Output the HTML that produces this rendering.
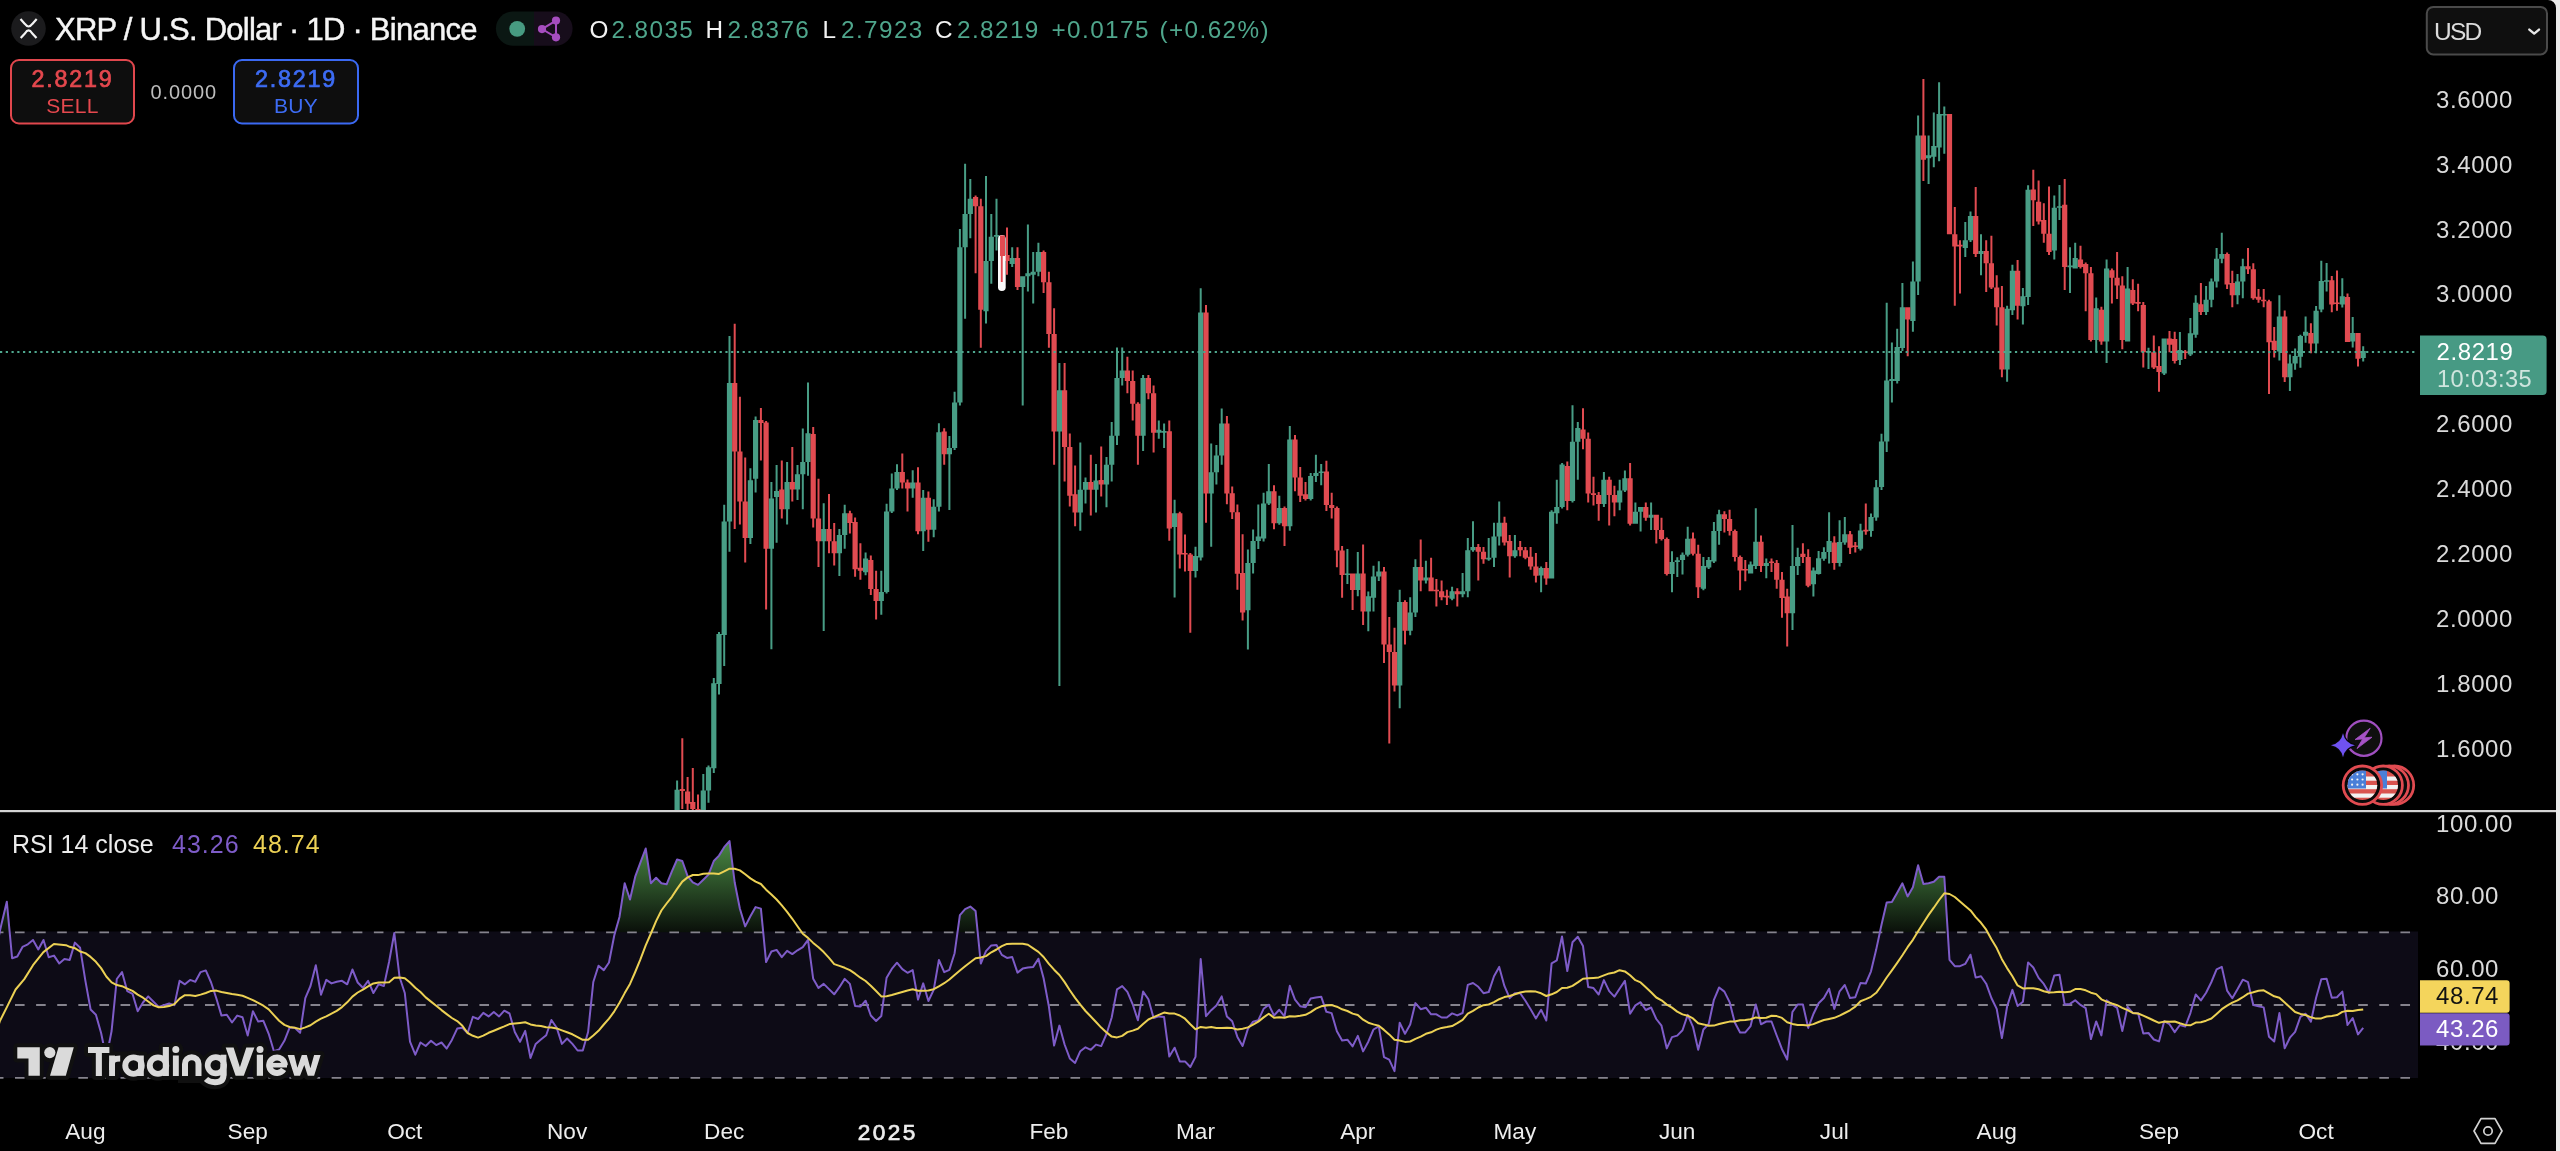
<!DOCTYPE html>
<html><head><meta charset="utf-8"><title>XRP / U.S. Dollar</title>
<style>
html,body{margin:0;padding:0;background:#000;width:2560px;height:1151px;overflow:hidden;}
svg{display:block;will-change:transform;}
text{font-family:"Liberation Sans",sans-serif;}
</style></head>
<body>
<svg width="2560" height="1151" viewBox="0 0 2560 1151">
<defs>
<linearGradient id="obg" gradientUnits="userSpaceOnUse" x1="0" y1="840" x2="0" y2="932">
<stop offset="0" stop-color="#4a8a44"/><stop offset="1" stop-color="#0a100a"/>
</linearGradient>
<clipPath id="pricepane"><rect x="0" y="0" width="2418" height="810"/></clipPath>
<clipPath id="rsipane"><rect x="0" y="812" width="2418" height="290"/></clipPath>
<clipPath id="flagclip1"><circle cx="2362.4" cy="785.2" r="14.8"/></clipPath>
<clipPath id="flagclip2"><circle cx="2383.2" cy="785.2" r="14.8"/></clipPath>
</defs>
<rect x="0" y="0" width="2560" height="1151" fill="#000"/>

<!-- ===== price pane ===== -->
<g clip-path="url(#pricepane)">
<path fill="#489d85" d="M676.1 780.4h2v30.6h-2zM674.5 789.7h5.2v21.3h-5.2zM702.3 774h2v37h-2zM700.7 790.6h5.2v20.4h-5.2zM707.5 765.4h2v37.4h-2zM705.9 767.3h5.2v23.3h-5.2zM712.8 678h2v94.9h-2zM711.2 683.2h5.2v85h-5.2zM718 632h2v62.4h-2zM716.4 634h5.2v50h-5.2zM723.2 504.7h2v161.3h-2zM721.6 521.4h5.2v113.5h-5.2zM728.5 335.9h2v215.9h-2zM726.9 383h5.2v138.4h-5.2zM749.4 468.2h2v75.8h-2zM747.8 480.3h5.2v57.7h-5.2zM754.6 416.5h2v76h-2zM753 420h5.2v58.8h-5.2zM770.4 481.9h2v167.3h-2zM768.8 498.6h5.2v50.2h-5.2zM775.6 465h2v77.7h-2zM774 491h5.2v6h-5.2zM786.1 462h2v62.5h-2zM784.5 481.9h5.2v27.3h-5.2zM796.5 465h2v35h-2zM794.9 474.3h5.2v15.2h-5.2zM801.8 428.6h2v80.6h-2zM800.2 462h5.2v12.3h-5.2zM807 382.4h2v93.4h-2zM805.4 433.2h5.2v28.8h-5.2zM822.7 503.2h2v127.8h-2zM821.1 529h5.2v12.2h-5.2zM838.4 529h2v47h-2zM836.8 535h5.2v18.3h-5.2zM843.7 504.7h2v44.1h-2zM842.1 513.2h5.2v21.8h-5.2zM864.6 552.5h2v22.8h-2zM863 558.6h5.2v13.6h-5.2zM880.3 570.7h2v44.1h-2zM878.7 592h5.2v9h-5.2zM885.6 503.8h2v89.7h-2zM884 511.4h5.2v80.6h-5.2zM890.8 473.4h2v39.6h-2zM889.2 488.6h5.2v22.8h-5.2zM896 464.3h2v25.7h-2zM894.4 471.9h5.2v16.7h-5.2zM911.7 470.3h2v27.4h-2zM910.1 482.5h5.2v6.1h-5.2zM922.2 490h2v61h-2zM920.6 497.7h5.2v33.5h-5.2zM932.7 499.2h2v38.1h-2zM931.1 506.8h5.2v22.9h-5.2zM937.9 423.2h2v88.2h-2zM936.3 432.3h5.2v74.5h-5.2zM948.4 436h2v73.9h-2zM946.8 448.1h5.2v6.1h-5.2zM953.6 391.8h2v58.2h-2zM952 402.5h5.2v45.6h-5.2zM958.9 229.1h2v176.4h-2zM957.3 247.3h5.2v155.2h-5.2zM964.1 163.7h2v155.1h-2zM962.5 213.9h5.2v33.4h-5.2zM969.3 178.9h2v59.3h-2zM967.7 198.7h5.2v15.2h-5.2zM985 175.9h2v147.5h-2zM983.4 261h5.2v50.2h-5.2zM990.3 213.9h2v69.9h-2zM988.7 236.7h5.2v24.3h-5.2zM995.5 198.7h2v51.7h-2zM993.9 235.1h5.2v1.6h-5.2zM1011.2 247.3h2v19.8h-2zM1009.6 258h5.2v6h-5.2zM1021.7 276.2h2v129.3h-2zM1020.1 276.2h5.2v10.7h-5.2zM1026.9 224.5h2v66.9h-2zM1025.3 273.2h5.2v3h-5.2zM1032.2 251.9h2v51.7h-2zM1030.6 271.7h5.2v3h-5.2zM1037.4 242.8h2v33.4h-2zM1035.8 251.9h5.2v19.8h-5.2zM1058.4 362.9h2v323.1h-2zM1056.8 390.3h5.2v41.1h-5.2zM1079.3 442.6h2v88.2h-2zM1077.7 489.7h5.2v22.8h-5.2zM1084.5 477.6h2v25.8h-2zM1082.9 482.1h5.2v7.6h-5.2zM1095 463.9h2v48.6h-2zM1093.4 480.6h5.2v9.1h-5.2zM1105.5 457h2v50.3h-2zM1103.9 464.7h5.2v19.7h-5.2zM1110.7 422h2v59.4h-2zM1109.1 435.8h5.2v28.9h-5.2zM1116 347.6h2v97.3h-2zM1114.4 378h5.2v57.8h-5.2zM1121.2 347.6h2v38h-2zM1119.6 370.4h5.2v7.6h-5.2zM1142.1 375h2v76h-2zM1140.5 378h5.2v57.8h-5.2zM1157.8 420.6h2v18.2h-2zM1156.2 429.7h5.2v3h-5.2zM1163.1 423.6h2v24.4h-2zM1161.5 431.1h5.2v1.6h-5.2zM1173.6 499.7h2v97.8h-2zM1172 513.3h5.2v13.7h-5.2zM1194.5 546.8h2v30.7h-2zM1192.9 556h5.2v15.1h-5.2zM1199.7 288.3h2v272.2h-2zM1198.1 312.6h5.2v244.9h-5.2zM1210.2 443.4h2v103.4h-2zM1208.6 472.3h5.2v21.3h-5.2zM1215.4 444.9h2v39.5h-2zM1213.8 455.6h5.2v16.7h-5.2zM1220.7 408.4h2v56.3h-2zM1219.1 423.6h5.2v32h-5.2zM1246.9 549.4h2v100h-2zM1245.3 563.1h5.2v47.2h-5.2zM1252.1 529.6h2v43.8h-2zM1250.5 541h5.2v22.1h-5.2zM1257.3 504.6h2v44.4h-2zM1255.7 536.6h5.2v4.4h-5.2zM1262.6 492.8h2v48.6h-2zM1261 503.4h5.2v35h-5.2zM1267.8 463.9h2v41.1h-2zM1266.2 491.3h5.2v12.1h-5.2zM1278.3 495.8h2v28.9h-2zM1276.7 508h5.2v15.2h-5.2zM1288.8 425.9h2v104.9h-2zM1287.2 439.5h5.2v86.7h-5.2zM1309.7 473h2v27.4h-2zM1308.1 476h5.2v22.9h-5.2zM1314.9 454.8h2v27.3h-2zM1313.3 473h5.2v3h-5.2zM1320.2 463.9h2v21.3h-2zM1318.6 471.4h5.2v1.6h-5.2zM1346.4 549h2v35h-2zM1344.8 573.4h5.2v1.6h-5.2zM1356.8 552.1h2v44.1h-2zM1355.2 573.4h5.2v16.7h-5.2zM1367.3 591.6h2v39.6h-2zM1365.7 596.2h5.2v15.2h-5.2zM1372.5 565.8h2v45.6h-2zM1370.9 576.4h5.2v21.3h-5.2zM1377.8 561.2h2v19.8h-2zM1376.2 571.4h5.2v5h-5.2zM1398.7 589.7h2v118.6h-2zM1397.1 601.9h5.2v83.6h-5.2zM1409.2 597.3h2v38h-2zM1407.6 612.5h5.2v18.3h-5.2zM1414.4 559.3h2v57.7h-2zM1412.8 566.9h5.2v45.6h-5.2zM1424.9 560.8h2v22.8h-2zM1423.3 577.5h5.2v3.1h-5.2zM1451.1 586.7h2v13.6h-2zM1449.5 591.2h5.2v7.6h-5.2zM1461.6 573h2v24.3h-2zM1460 591.2h5.2v3.1h-5.2zM1466.8 538h2v59.3h-2zM1465.2 550.2h5.2v41h-5.2zM1472 521.3h2v30.4h-2zM1470.4 547.1h5.2v3.1h-5.2zM1487.7 538h2v22.8h-2zM1486.1 557.8h5.2v1.6h-5.2zM1493 522.8h2v44.1h-2zM1491.4 536.5h5.2v21.3h-5.2zM1498.2 501.5h2v44.1h-2zM1496.6 522.8h5.2v13.7h-5.2zM1513.9 534.9h2v22.9h-2zM1512.3 550.2h5.2v6h-5.2zM1540.1 566.4h2v25.9h-2zM1538.5 568h5.2v7.6h-5.2zM1550.6 510.2h2v68.4h-2zM1549 511.7h5.2v66.9h-5.2zM1555.8 479.7h2v44.1h-2zM1554.2 507.1h5.2v6.1h-5.2zM1561.1 463h2v45.6h-2zM1559.5 464.5h5.2v42.6h-5.2zM1571.5 405.2h2v97.3h-2zM1569.9 441.7h5.2v59.3h-5.2zM1576.8 421.9h2v57.8h-2zM1575.2 428h5.2v13.7h-5.2zM1602.9 472.1h2v35h-2zM1601.3 479.7h5.2v24.4h-5.2zM1618.7 479.7h2v30.5h-2zM1617.1 490.4h5.2v12.1h-5.2zM1623.9 470.6h2v21.3h-2zM1622.3 478.2h5.2v12.2h-5.2zM1634.4 502.5h2v21.3h-2zM1632.8 511.7h5.2v12.1h-5.2zM1639.6 507.1h2v24.3h-2zM1638 507.1h5.2v4.6h-5.2zM1650.1 502.5h2v27.4h-2zM1648.5 514.7h5.2v3.1h-5.2zM1671 551.2h2v41.1h-2zM1669.4 561.9h5.2v12.1h-5.2zM1676.3 557.3h2v19.8h-2zM1674.7 560.3h5.2v1.6h-5.2zM1681.5 552.5h2v22h-2zM1679.9 554.8h5.2v5.3h-5.2zM1686.7 526.7h2v29.7h-2zM1685.1 538.8h5.2v16h-5.2zM1702.4 556.9h2v33.4h-2zM1700.8 566h5.2v22.8h-5.2zM1707.7 556.9h2v12.1h-2zM1706.1 559.9h5.2v7.6h-5.2zM1712.9 521.9h2v41.1h-2zM1711.3 531h5.2v30.4h-5.2zM1718.1 509.7h2v35h-2zM1716.5 514.3h5.2v16.7h-5.2zM1749.6 561.4h2v12.2h-2zM1748 564.5h5.2v9.1h-5.2zM1754.8 508.2h2v60.8h-2zM1753.2 541.7h5.2v24.3h-5.2zM1765.3 558.4h2v19.8h-2zM1763.7 563h5.2v3h-5.2zM1791.5 524.9h2v105h-2zM1789.9 566h5.2v47.2h-5.2zM1796.7 547.8h2v27.3h-2zM1795.1 556.9h5.2v9.1h-5.2zM1812.4 567.5h2v28.9h-2zM1810.8 570.6h5.2v13.7h-5.2zM1817.6 550.9h2v23.5h-2zM1816 558.2h5.2v15.7h-5.2zM1822.9 547.3h2v13.5h-2zM1821.3 552h5.2v6.7h-5.2zM1828.1 512.3h2v51.1h-2zM1826.5 541h5.2v11h-5.2zM1838.6 520.2h2v46.4h-2zM1837 542.1h5.2v20.8h-5.2zM1843.8 517h2v27.7h-2zM1842.2 534.2h5.2v8.4h-5.2zM1859.5 523.8h2v26.6h-2zM1857.9 530.6h5.2v18.2h-5.2zM1870 513.4h2v23.4h-2zM1868.4 517h5.2v14.1h-5.2zM1875.2 480h2v40.7h-2zM1873.6 487.3h5.2v30.2h-5.2zM1880.5 433.8h2v56.3h-2zM1878.9 441.4h5.2v45.7h-5.2zM1885.7 302.7h2v149.4h-2zM1884.1 380.5h5.2v60.9h-5.2zM1890.9 342.6h2v59.9h-2zM1889.3 378.9h5.2v2.1h-5.2zM1896.2 328.7h2v54.8h-2zM1894.6 346.9h5.2v34.1h-5.2zM1901.4 282.9h2v68.1h-2zM1899.8 307.3h5.2v40.7h-5.2zM1911.9 261.6h2v70.2h-2zM1910.3 281.4h5.2v39.6h-5.2zM1917.1 115.6h2v179.5h-2zM1915.5 135.4h5.2v146h-5.2zM1927.6 135.4h2v48.7h-2zM1926 155.2h5.2v3h-5.2zM1932.8 112.6h2v54.7h-2zM1931.2 146h5.2v10.7h-5.2zM1938.1 82.2h2v79.1h-2zM1936.5 114.1h5.2v33.5h-5.2zM1943.3 106.5h2v47.2h-2zM1941.7 114h5.2v1.6h-5.2zM1964.3 222.1h2v35h-2zM1962.7 240.3h5.2v7.7h-5.2zM1969.5 211.4h2v30.5h-2zM1967.9 216h5.2v24.3h-5.2zM1980 234.3h2v41h-2zM1978.4 251h5.2v3h-5.2zM2006.1 305.7h2v76.1h-2zM2004.5 308.8h5.2v60.8h-5.2zM2011.4 264.7h2v50.2h-2zM2009.8 270.8h5.2v39.5h-5.2zM2021.9 288h2v36.5h-2zM2020.3 296.3h5.2v9.9h-5.2zM2027.1 185.3h2v119.7h-2zM2025.5 189.8h5.2v107.2h-5.2zM2053.3 195.6h2v63.9h-2zM2051.7 207.8h5.2v42.6h-5.2zM2058.5 185h2v35h-2zM2056.9 206.2h5.2v1.6h-5.2zM2069 247.3h2v45.7h-2zM2067.4 265.6h5.2v1.6h-5.2zM2074.2 242.8h2v25.8h-2zM2072.6 258h5.2v10.6h-5.2zM2095.2 297.5h2v54.8h-2zM2093.6 308.2h5.2v31.9h-5.2zM2105.6 259.5h2v103.4h-2zM2104 268.6h5.2v73h-5.2zM2126.6 267.1h2v74.5h-2zM2125 288.4h5.2v53.2h-5.2zM2147.5 347.7h2v21.3h-2zM2145.9 351.1h5.2v1.6h-5.2zM2163.2 338.6h2v36.5h-2zM2161.6 338.6h5.2v35h-5.2zM2178.9 332h2v33h-2zM2177.3 350h5.2v10h-5.2zM2189.4 318h2v38h-2zM2187.8 333.2h5.2v21.3h-5.2zM2194.7 295.2h2v42.6h-2zM2193.1 302.8h5.2v31.9h-5.2zM2205.1 286h2v28.9h-2zM2203.5 299.7h5.2v12.2h-5.2zM2210.4 278.4h2v28.9h-2zM2208.8 281.5h5.2v18.2h-5.2zM2215.6 248h2v39.6h-2zM2214 258.7h5.2v22.8h-5.2zM2220.8 232.8h2v30.4h-2zM2219.2 254.1h5.2v4.6h-5.2zM2236.5 273.9h2v30.4h-2zM2234.9 281.5h5.2v13.7h-5.2zM2241.8 258.7h2v39.5h-2zM2240.2 266.3h5.2v15.2h-5.2zM2278.4 295.2h2v65.4h-2zM2276.8 316.5h5.2v34.9h-5.2zM2288.9 354.5h2v36.5h-2zM2287.3 363.6h5.2v13.7h-5.2zM2294.1 348.4h2v21.3h-2zM2292.5 356h5.2v7.6h-5.2zM2299.4 334.7h2v33.1h-2zM2297.8 336h5.2v20.7h-5.2zM2304.6 316.4h2v26.4h-2zM2303 331.7h5.2v4.1h-5.2zM2315.1 306h2v47.2h-2zM2313.5 310.8h5.2v32.7h-5.2zM2320.3 260.8h2v51.4h-2zM2318.7 281h5.2v28.4h-5.2zM2325.6 262.9h2v28.5h-2zM2324 280.2h5.2v1.6h-5.2zM2341.3 278.2h2v29.2h-2zM2339.7 296.3h5.2v8.3h-5.2zM2351.7 317.1h2v30.5h-2zM2350.1 333.1h5.2v8.3h-5.2zM2362.2 346.3h2v15.2h-2zM2360.6 351.1h5.2v7h-5.2z"/><path fill="#e14b51" d="M681.3 738.3h2v70.7h-2zM679.7 789h5.2v2h-5.2zM686.6 777h2v33h-2zM685 791.6h5.2v12.1h-5.2zM691.8 768h2v43h-2zM690.2 802h5.2v7h-5.2zM697 794.4h2v16.6h-2zM695.4 809h5.2v2h-5.2zM733.7 323.7h2v205.3h-2zM732.1 383h5.2v68.4h-5.2zM738.9 396.7h2v127.8h-2zM737.3 451.4h5.2v50.2h-5.2zM744.2 457.5h2v105h-2zM742.6 501.6h5.2v36.4h-5.2zM759.9 408h2v52.6h-2zM758.3 420h5.2v3h-5.2zM765.1 421h2v188.6h-2zM763.5 422.5h5.2v126.3h-5.2zM780.8 460.6h2v57.8h-2zM779.2 489.5h5.2v19.7h-5.2zM791.3 446.9h2v54.7h-2zM789.7 481.9h5.2v7.6h-5.2zM812.2 427.1h2v100.4h-2zM810.6 434.1h5.2v84.3h-5.2zM817.5 478.8h2v88.2h-2zM815.9 518.4h5.2v22.8h-5.2zM828 494h2v59.3h-2zM826.4 529h5.2v12.2h-5.2zM833.2 523h2v42.5h-2zM831.6 541.2h5.2v12.1h-5.2zM848.9 510.8h2v22.8h-2zM847.3 513.2h5.2v9.8h-5.2zM854.1 517.5h2v59.3h-2zM852.5 522h5.2v47.2h-5.2zM859.4 543.3h2v36.5h-2zM857.8 567.7h5.2v3h-5.2zM869.8 555.5h2v39.5h-2zM868.2 560h5.2v29h-5.2zM875.1 570.7h2v48.7h-2zM873.5 589h5.2v12h-5.2zM901.3 453.6h2v35h-2zM899.7 471.9h5.2v10.6h-5.2zM906.5 479.5h2v31.9h-2zM904.9 482.5h5.2v6.1h-5.2zM917 467.3h2v66.9h-2zM915.4 482.5h5.2v48.7h-5.2zM927.4 491.6h2v50.2h-2zM925.8 497.7h5.2v32h-5.2zM943.2 428.3h2v36.5h-2zM941.6 431.4h5.2v22.8h-5.2zM974.6 195.6h2v77.6h-2zM973 197.1h5.2v9.2h-5.2zM979.8 198.7h2v149h-2zM978.2 206.3h5.2v103.4h-5.2zM1006 227.6h2v47.1h-2zM1004.4 255h5.2v6h-5.2zM1016.5 247.3h2v42.7h-2zM1014.9 258h5.2v28.9h-5.2zM1042.6 250.4h2v42.6h-2zM1041 251.9h5.2v30.4h-5.2zM1047.9 271.7h2v76h-2zM1046.3 282.3h5.2v51.7h-5.2zM1053.1 308.2h2v156.6h-2zM1051.5 334h5.2v97.4h-5.2zM1063.6 362.9h2v118.7h-2zM1062 390.3h5.2v56.8h-5.2zM1068.8 433.5h2v73h-2zM1067.2 447.1h5.2v48.7h-5.2zM1074.1 465.4h2v60.8h-2zM1072.5 494.3h5.2v18.2h-5.2zM1089.8 454.8h2v60.8h-2zM1088.2 482.1h5.2v7.6h-5.2zM1100.2 446.4h2v50.2h-2zM1098.6 479.9h5.2v4.5h-5.2zM1126.4 356.7h2v36.5h-2zM1124.8 370.4h5.2v10.6h-5.2zM1131.7 370.4h2v50.2h-2zM1130.1 381h5.2v22.8h-5.2zM1136.9 402.3h2v62.4h-2zM1135.3 403.8h5.2v32h-5.2zM1147.4 375h2v24.3h-2zM1145.8 378h5.2v15.2h-5.2zM1152.6 385.6h2v66.9h-2zM1151 393.2h5.2v39.5h-5.2zM1168.3 420.6h2v120.1h-2zM1166.7 431.2h5.2v97.4h-5.2zM1178.8 511.8h2v56.7h-2zM1177.2 513.3h5.2v41.1h-5.2zM1184 534.6h2v36.9h-2zM1182.4 552.9h5.2v1.6h-5.2zM1189.3 552.9h2v79.8h-2zM1187.7 554.4h5.2v16.7h-5.2zM1205 305h2v217.8h-2zM1203.4 312.6h5.2v181h-5.2zM1225.9 416h2v88.2h-2zM1224.3 423.6h5.2v70h-5.2zM1231.2 486.4h2v32.6h-2zM1229.6 493.2h5.2v19h-5.2zM1236.4 504.6h2v85.2h-2zM1234.8 512.2h5.2v61.6h-5.2zM1241.6 534.2h2v86.3h-2zM1240 573h5.2v39.5h-5.2zM1273 485.2h2v44.1h-2zM1271.4 491.3h5.2v31.9h-5.2zM1283.5 506.5h2v39.5h-2zM1281.9 508h5.2v18.2h-5.2zM1294 435h2v56.3h-2zM1292.4 439.5h5.2v38.1h-5.2zM1299.2 466.9h2v35h-2zM1297.6 477.6h5.2v18.2h-5.2zM1304.5 482.1h2v18.3h-2zM1302.9 494.3h5.2v4.6h-5.2zM1325.4 460.8h2v50.2h-2zM1323.8 471.5h5.2v33.5h-5.2zM1330.7 492.8h2v25.8h-2zM1329.1 505h5.2v3h-5.2zM1335.9 506.5h2v60.8h-2zM1334.3 508h5.2v42.6h-5.2zM1341.1 546h2v51.7h-2zM1339.5 550.6h5.2v24.3h-5.2zM1351.6 573.4h2v36.5h-2zM1350 573.4h5.2v16.7h-5.2zM1362.1 544.5h2v80.6h-2zM1360.5 573.4h5.2v38h-5.2zM1383 566.9h2v96h-2zM1381.4 571.4h5.2v73.1h-5.2zM1388.3 617h2v126.5h-2zM1386.7 644.5h5.2v7.5h-5.2zM1393.5 627.7h2v63.9h-2zM1391.9 652h5.2v33.5h-5.2zM1404 600.3h2v44.2h-2zM1402.4 601.9h5.2v28.9h-5.2zM1419.7 539.5h2v51.7h-2zM1418.1 566.9h5.2v13.7h-5.2zM1430.1 557.8h2v33.4h-2zM1428.5 577.5h5.2v13.7h-5.2zM1435.4 579h2v27.4h-2zM1433.8 589.7h5.2v1.6h-5.2zM1440.6 580.6h2v19.7h-2zM1439 591.2h5.2v6.1h-5.2zM1445.9 589.7h2v15.2h-2zM1444.3 595.8h5.2v1.6h-5.2zM1456.3 588.2h2v18.2h-2zM1454.7 591.2h5.2v3.1h-5.2zM1477.3 544.1h2v36.5h-2zM1475.7 547.1h5.2v4.6h-5.2zM1482.5 547.1h2v16.7h-2zM1480.9 551.7h5.2v7.6h-5.2zM1503.5 516.7h2v28.9h-2zM1501.9 522.8h5.2v19.7h-5.2zM1508.7 534.9h2v42.6h-2zM1507.1 541h5.2v15.2h-5.2zM1519.2 541h2v15.2h-2zM1517.6 547.1h5.2v3.1h-5.2zM1524.4 547.1h2v12.2h-2zM1522.8 550.2h5.2v7.6h-5.2zM1529.6 546.9h2v22.8h-2zM1528 556.8h5.2v9.6h-5.2zM1534.9 552.9h2v29.7h-2zM1533.3 566.4h5.2v9.4h-5.2zM1545.3 561.9h2v22.8h-2zM1543.7 568h5.2v10.6h-5.2zM1566.3 461.5h2v48.7h-2zM1564.7 466h5.2v35h-5.2zM1582 408.3h2v41h-2zM1580.4 429.5h5.2v9.2h-5.2zM1587.2 432.6h2v69.9h-2zM1585.6 438.7h5.2v54.7h-5.2zM1592.5 476.7h2v28.9h-2zM1590.9 493.3h5.2v1.6h-5.2zM1597.7 491.9h2v28.9h-2zM1596.1 494.9h5.2v9.2h-5.2zM1608.2 476.7h2v48.7h-2zM1606.6 479.7h5.2v15.2h-5.2zM1613.4 485.8h2v30.4h-2zM1611.8 494.9h5.2v7.6h-5.2zM1629.1 463h2v62.4h-2zM1627.5 478.2h5.2v45.6h-5.2zM1644.8 502.5h2v18.3h-2zM1643.2 507.1h5.2v10.7h-5.2zM1655.3 514.7h2v28.9h-2zM1653.7 514.7h5.2v15.2h-5.2zM1660.5 517.8h2v22.8h-2zM1658.9 529.9h5.2v9.1h-5.2zM1665.8 537.5h2v38.1h-2zM1664.2 539h5.2v35h-5.2zM1692 532.5h2v22.9h-2zM1690.4 538.6h5.2v15.2h-5.2zM1697.2 544.7h2v53.3h-2zM1695.6 553.8h5.2v33.5h-5.2zM1723.4 511.3h2v21.2h-2zM1721.8 514.3h5.2v4.6h-5.2zM1728.6 509.7h2v25.9h-2zM1727 518.9h5.2v12.1h-5.2zM1733.9 529.5h2v31.9h-2zM1732.3 531h5.2v25.9h-5.2zM1739.1 555.4h2v34.9h-2zM1737.5 556.9h5.2v13.7h-5.2zM1744.3 559.9h2v21.3h-2zM1742.7 569h5.2v1.6h-5.2zM1760 535.6h2v36.5h-2zM1758.4 541.7h5.2v24.3h-5.2zM1770.5 558.4h2v13.7h-2zM1768.9 561.4h5.2v1.6h-5.2zM1775.7 559.9h2v28.9h-2zM1774.1 563h5.2v16.7h-5.2zM1781 572.1h2v45.6h-2zM1779.4 579.7h5.2v18.3h-5.2zM1786.2 588.8h2v57.8h-2zM1784.6 596.4h5.2v16.8h-5.2zM1801.9 543.2h2v19.8h-2zM1800.3 553.8h5.2v3.1h-5.2zM1807.2 549.3h2v38h-2zM1805.6 556.9h5.2v28.9h-5.2zM1833.3 536.3h2v33.4h-2zM1831.7 542.6h5.2v20.3h-5.2zM1849.1 531.1h2v23h-2zM1847.5 534.2h5.2v13.6h-5.2zM1854.3 542.1h2v10.4h-2zM1852.7 545.5h5.2v1.6h-5.2zM1864.8 503.5h2v31.3h-2zM1863.2 529.8h5.2v1.6h-5.2zM1906.7 307.3h2v48.9h-2zM1905.1 307.3h5.2v12.3h-5.2zM1922.4 79.1h2v101.9h-2zM1920.8 135.4h5.2v24.3h-5.2zM1948.5 114.1h2v120.2h-2zM1946.9 114.1h5.2v120.2h-5.2zM1953.8 206.9h2v98.8h-2zM1952.2 234.3h5.2v12.1h-5.2zM1959 240.3h2v53.3h-2zM1957.4 244.8h5.2v1.6h-5.2zM1974.7 187.1h2v70h-2zM1973.1 216h5.2v38h-5.2zM1985.2 240.3h2v51.8h-2zM1983.6 251h5.2v12.2h-5.2zM1990.4 235.8h2v53.2h-2zM1988.8 263.2h5.2v24.3h-5.2zM1995.7 275.3h2v50.2h-2zM1994.1 287.5h5.2v19.8h-5.2zM2000.9 286h2v91.2h-2zM1999.3 307.3h5.2v62.3h-5.2zM2016.6 260.1h2v59.3h-2zM2015 270.8h5.2v34.9h-5.2zM2032.3 169.8h2v56.2h-2zM2030.7 189.5h5.2v10.7h-5.2zM2037.6 180.4h2v44.1h-2zM2036 201.7h5.2v19.8h-5.2zM2042.8 203.2h2v39.6h-2zM2041.2 220h5.2v13.7h-5.2zM2048 186.5h2v68.4h-2zM2046.4 233.7h5.2v18.2h-5.2zM2063.7 178.9h2v111h-2zM2062.1 204.8h5.2v62.3h-5.2zM2079.5 245.8h2v22.8h-2zM2077.9 259.5h5.2v7.6h-5.2zM2084.7 262.5h2v48.7h-2zM2083.1 264.1h5.2v9.1h-5.2zM2089.9 267.1h2v74.5h-2zM2088.3 273.2h5.2v66.9h-5.2zM2100.4 306.7h2v38h-2zM2098.8 309.7h5.2v31.9h-5.2zM2110.9 268.6h2v35h-2zM2109.3 270.2h5.2v7.6h-5.2zM2116.1 251.9h2v47.1h-2zM2114.5 277.8h5.2v7.6h-5.2zM2121.3 276.2h2v73h-2zM2119.7 285.4h5.2v54.7h-5.2zM2131.8 279.3h2v25.8h-2zM2130.2 289.9h5.2v13.7h-5.2zM2137.1 283.8h2v27.4h-2zM2135.5 302.1h5.2v1.6h-5.2zM2142.3 302.1h2v65.4h-2zM2140.7 305.1h5.2v47.2h-5.2zM2152.8 335.6h2v33.4h-2zM2151.2 352.3h5.2v15.2h-5.2zM2158 346.2h2v45.6h-2zM2156.4 366h5.2v6.1h-5.2zM2168.5 331h2v21.3h-2zM2166.9 338.6h5.2v6.1h-5.2zM2173.7 331.7h2v31.9h-2zM2172.1 339h5.2v22h-5.2zM2184.2 349.9h2v9.1h-2zM2182.6 351.4h5.2v1.6h-5.2zM2199.9 283h2v31.9h-2zM2198.3 304.3h5.2v7.6h-5.2zM2226.1 252.6h2v36.5h-2zM2224.5 254.1h5.2v30.4h-5.2zM2231.3 270.8h2v36.5h-2zM2229.7 283h5.2v12.2h-5.2zM2247 248h2v25.9h-2zM2245.4 266.3h5.2v3h-5.2zM2252.3 263.2h2v36.5h-2zM2250.7 269.3h5.2v28.9h-5.2zM2257.5 289.1h2v13.7h-2zM2255.9 296.7h5.2v3h-5.2zM2262.7 289.1h2v18.2h-2zM2261.1 299.7h5.2v1.6h-5.2zM2268 299.7h2v94.3h-2zM2266.4 301.3h5.2v41h-5.2zM2273.2 327.1h2v30.4h-2zM2271.6 340.8h5.2v9.1h-5.2zM2283.7 310.4h2v71.5h-2zM2282.1 316.5h5.2v60.8h-5.2zM2309.9 323.3h2v29.9h-2zM2308.3 333.1h5.2v10.4h-5.2zM2330.8 276.1h2v36.1h-2zM2329.2 280.3h5.2v24.3h-5.2zM2336 270.6h2v40.2h-2zM2334.4 302.4h5.2v1.6h-5.2zM2346.5 293.5h2v48.6h-2zM2344.9 296.9h5.2v45.2h-5.2zM2357 333.1h2v33.3h-2zM2355.4 333.1h5.2v25.7h-5.2z"/>
<!-- highlighted candle marker -->
<rect x="998" y="235" width="7.7" height="56" rx="3.8" fill="#fafafa"/>
<rect x="1000" y="235.4" width="5" height="20.6" fill="#e14b51"/>
<rect x="1000.8" y="255" width="1.9" height="27" fill="#e14b51"/>
</g>
<line x1="0" y1="352" x2="2414.5" y2="352" stroke="#4fa88f" stroke-width="2.1" stroke-dasharray="2.2 3.557"/>

<!-- header -->
<circle cx="28.5" cy="28.5" r="17.3" fill="#1b1b1d"/>
<path d="M20.5 19 L24.9 23.9 Q28.6 29.1 32.3 23.9 L36.7 19 M20.7 38.1 L25.1 33.3 Q28.6 27.4 32.1 33.3 L36.5 38.1" fill="none" stroke="#f4f4f4" stroke-width="2.2" stroke-linejoin="round"/>
<text x="55" y="39.9" font-size="31" letter-spacing="-0.75" fill="#f5f5f5" stroke="#f5f5f5" stroke-width="0.45">XRP / U.S. Dollar · 1D · Binance</text>

<path d="M513 11.5 H534 V45.7 H513 A17.1 17.1 0 0 1 513 11.5 Z" fill="#0b1713"/>
<path d="M534 11.5 H555.5 A17.1 17.1 0 0 1 555.5 45.7 H534 Z" fill="#170d1b"/>
<circle cx="517.2" cy="28.8" r="7.9" fill="#479b81"/>
<path d="M556 20.6 L542 29.1 L556 37.3 Z" fill="none" stroke="#a64dbf" stroke-width="2"/>
<circle cx="556" cy="20.6" r="4.1" fill="#a64dbf"/>
<circle cx="542" cy="29.1" r="4.1" fill="#a64dbf"/>
<circle cx="556" cy="37.3" r="4.1" fill="#a64dbf"/>

<g font-size="24.3" letter-spacing="1.4">
<text x="589.5" y="37.5" fill="#f2f2f2">O</text>
<text x="611.5" y="37.5" fill="#4fa68c">2.8035</text>
<text x="705.5" y="37.5" fill="#f2f2f2">H</text>
<text x="727.5" y="37.5" fill="#4fa68c">2.8376</text>
<text x="822.5" y="37.5" fill="#f2f2f2">L</text>
<text x="841" y="37.5" fill="#4fa68c">2.7923</text>
<text x="935" y="37.5" fill="#f2f2f2">C</text>
<text x="957" y="37.5" fill="#4fa68c">2.8219</text>
<text x="1051.5" y="37.5" fill="#4fa68c">+0.0175</text>
<text x="1159.5" y="37.5" fill="#4fa68c">(+0.62%)</text>
</g>

<!-- sell / buy -->
<rect x="11" y="60" width="123" height="63.5" rx="8" fill="#0e0e0e" stroke="#e0474d" stroke-width="2"/>
<text x="72.5" y="87" font-size="23.3" letter-spacing="1.8" text-anchor="middle" fill="#e5484e" stroke="#e5484e" stroke-width="0.7">2.8219</text>
<text x="72.5" y="113" font-size="21" letter-spacing="0.3" text-anchor="middle" fill="#e5484e">SELL</text>
<text x="150.5" y="99" font-size="20" letter-spacing="0.9" fill="#bdbdbd">0.0000</text>
<rect x="234" y="60" width="124" height="63.5" rx="8" fill="#0e0e0e" stroke="#3b69f2" stroke-width="2"/>
<text x="296" y="87" font-size="23.3" letter-spacing="1.8" text-anchor="middle" fill="#3d6cf4" stroke="#3d6cf4" stroke-width="0.7">2.8219</text>
<text x="296" y="113" font-size="21" letter-spacing="0.3" text-anchor="middle" fill="#3d6cf4">BUY</text>

<!-- USD dropdown -->
<rect x="2426.8" y="6.9" width="120.2" height="47.5" rx="6.5" fill="#0f0f0f" stroke="#4a4a4a" stroke-width="2"/>
<text x="2434" y="39.8" font-size="24.5" letter-spacing="-1.8" fill="#dcdcdc">USD</text>
<path d="M2529.3 29.6 L2534.2 33.6 L2539 29.6" fill="none" stroke="#e6e6e6" stroke-width="2.4" stroke-linecap="round" stroke-linejoin="round"/>

<!-- price axis -->
<g font-size="24" letter-spacing="0.6" fill="#dadada">
<text x="2436" y="107.6">3.6000</text>
<text x="2436" y="172.5">3.4000</text>
<text x="2436" y="237.5">3.2000</text>
<text x="2436" y="302.4">3.0000</text>
<text x="2436" y="432.3">2.6000</text>
<text x="2436" y="497.2">2.4000</text>
<text x="2436" y="562.2">2.2000</text>
<text x="2436" y="627.1">2.0000</text>
<text x="2436" y="692">1.8000</text>
<text x="2436" y="757">1.6000</text>
</g>
<path d="M2420 335.6 H2542.6 A4 4 0 0 1 2546.6 339.6 V391 A4 4 0 0 1 2542.6 395 H2420 Z" fill="#479a84"/>
<text x="2436.5" y="360" font-size="24" letter-spacing="0.6" fill="#ffffff">2.8219</text>
<text x="2437" y="386.5" font-size="23.6" letter-spacing="0.4" fill="#cfe5de">10:03:35</text>

<!-- lightning + flags -->
<circle cx="2363.9" cy="738.2" r="17.6" fill="#0f0f0f" stroke="#a04fc0" stroke-width="2.2"/>
<path d="M2370.2 728.2 L2355 739.6 L2362.6 739 L2357 748.6 L2372 737.2 L2364.2 737.8 Z" fill="#a652c6" stroke="#a652c6" stroke-width="0.8" stroke-linejoin="round"/>
<path d="M2343 733.2 Q2345 743.2 2355 745.2 Q2345 747.2 2343 757.2 Q2341 747.2 2331 745.2 Q2341 743.2 2343 733.2 Z" fill="#6f52f0" stroke="#050505" stroke-width="2.4" paint-order="stroke"/>

<circle cx="2394.5" cy="785.2" r="19.2" fill="#0a0a0a" stroke="#e14b51" stroke-width="2.8"/>
<circle cx="2389.3" cy="785.2" r="19.2" fill="#0a0a0a" stroke="#e14b51" stroke-width="2.8"/>
<circle cx="2383.2" cy="785.2" r="19.2" fill="#0a0a0a" stroke="#e14b51" stroke-width="2.8"/>
<g clip-path="url(#flagclip2)">
<rect x="2368" y="770" width="31" height="31" fill="#d9534f"/>
<rect x="2368" y="776.5" width="31" height="4.2" fill="#f2f2f2"/>
<rect x="2368" y="785" width="31" height="4.2" fill="#f2f2f2"/>
<rect x="2368" y="793.5" width="31" height="4.2" fill="#f2f2f2"/>
<rect x="2368" y="770" width="19" height="18.5" fill="#4a7fd8"/>
</g>
<circle cx="2362.4" cy="785.2" r="19.2" fill="#0a0a0a" stroke="#e14b51" stroke-width="2.8"/>
<g clip-path="url(#flagclip1)">
<rect x="2347" y="770" width="31" height="31" fill="#d9534f"/>
<rect x="2347" y="776.5" width="31" height="4.2" fill="#f2f2f2"/>
<rect x="2347" y="785" width="31" height="4.2" fill="#f2f2f2"/>
<rect x="2347" y="793.5" width="31" height="4.2" fill="#f2f2f2"/>
<rect x="2347" y="770" width="19" height="18.5" fill="#4a7fd8"/>
<circle cx="2352.1" cy="774.3" r="1.1" fill="#f4f4f4"/><circle cx="2352.1" cy="779.5" r="1.1" fill="#f4f4f4"/><circle cx="2352.1" cy="784.7" r="1.1" fill="#f4f4f4"/><circle cx="2357.4" cy="774.3" r="1.1" fill="#f4f4f4"/><circle cx="2357.4" cy="779.5" r="1.1" fill="#f4f4f4"/><circle cx="2357.4" cy="784.7" r="1.1" fill="#f4f4f4"/><circle cx="2362.6" cy="774.3" r="1.1" fill="#f4f4f4"/><circle cx="2362.6" cy="779.5" r="1.1" fill="#f4f4f4"/><circle cx="2362.6" cy="784.7" r="1.1" fill="#f4f4f4"/>
</g>

<!-- separator -->
<rect x="0" y="810" width="2556" height="2.2" fill="#d4d4d4"/>

<!-- ===== RSI pane ===== -->
<rect x="0" y="931.5" width="2418" height="146.5" fill="#0d0b16"/>
<g clip-path="url(#rsipane)">
<polygon fill="url(#obg)" points="1.6,932.2 1.6,923.4 6.8,901.7 9.7,932.2"/><polygon fill="url(#obg)" points="615.1,932.2 619.5,916.9 624.7,883.2 630,899.5 635.2,876.7 640.4,862.6 645.7,848.5 650.9,883.2 656.1,877.8 661.4,883.2 666.6,884.3 671.9,871.3 677.1,859.5 682.3,861 687.6,876.1 692.8,882.4 698,884.9 703.3,879.8 708.5,874.6 713.8,861 719,855.6 724.2,847.2 729.5,841.1 734.7,882.5 739.9,908.8 745.2,926.4 750.4,916.3 755.6,907.1 760.9,908.6 763.2,932.2"/><polygon fill="url(#obg)" points="957.5,932.2 959.9,915.1 965.1,909.2 970.3,906.6 975.6,911.1 977.7,932.2"/><polygon fill="url(#obg)" points="1879.9,932.2 1881.5,924.7 1886.7,902.5 1891.9,902 1897.2,892.7 1902.4,883.3 1907.6,896.4 1912.9,887.2 1918.1,865.3 1923.4,883.9 1928.6,883.2 1933.8,881.7 1939.1,876.8 1944.3,876.8 1947.8,932.2"/>
<g stroke="#85838d" stroke-width="1.8" stroke-dasharray="9.6 11.51" stroke-dashoffset="6.11">
<line x1="0" y1="932.3" x2="2418" y2="932.3"/>
<line x1="0" y1="1005" x2="2418" y2="1005"/>
<line x1="0" y1="1077.8" x2="2418" y2="1077.8"/>
</g>
<polyline points="-3.6,948 1.6,923.4 6.8,901.7 12.1,958.2 17.3,956.5 22.5,946.9 27.8,944.3 33,940 38.3,949.5 43.5,940 48.7,957.3 54,955.6 59.2,963.4 64.4,959.1 69.7,959.9 74.9,942.6 80.1,947.8 85.4,980.8 90.6,1009.5 95.9,1014.7 101.1,1033 106.3,1058 111.6,1031 116.8,979 122,972.1 127.3,991.2 132.5,993.8 137.7,1011.2 143,1002.5 148.2,996.4 153.5,1001.7 158.7,1006.9 163.9,1005.1 169.2,1003.4 174.4,1005.1 179.6,980.8 184.9,984.3 190.1,979.9 195.3,981.7 200.6,972.1 205.8,970.4 211.1,982.5 216.3,998.2 221.5,1015.6 226.8,1014.7 232,1022.5 237.2,1015.6 242.5,1017.3 247.7,1035.5 252.9,1011.2 258.2,1021.6 263.4,1020.8 268.7,1033.8 273.9,1051.2 279.1,1049.4 284.4,1040.8 289.6,1027.7 294.8,1027.7 300.1,1032.9 305.3,998.2 310.5,986 315.8,965.2 321,994.7 326.3,979.9 331.5,983.4 336.7,981.7 342,980.8 347.2,984.3 352.4,969.5 357.7,982.5 362.9,987.8 368.1,980.8 373.4,993 378.6,984.3 383.9,986 389.1,961.7 394.3,933 399.6,977.3 404.8,993 410,1041.6 415.3,1054.7 420.5,1042.5 425.7,1046 431,1040.8 436.2,1045.1 441.5,1042.5 446.7,1048.6 451.9,1039.9 457.2,1028.6 462.4,1027.7 467.6,1033 472.9,1016.8 478.1,1019 483.3,1012.9 488.6,1016.4 493.8,1012 499.1,1016.4 504.3,1010.7 509.5,1013.5 514.8,1032 520,1041.8 525.2,1030.9 530.5,1058 535.7,1043.9 540.9,1039.6 546.2,1035.3 551.4,1020 556.7,1027.7 561.9,1043.9 567.1,1038.5 572.4,1043.9 577.6,1050.5 582.8,1050.5 588.1,1032 593.3,982 598.5,965.8 603.8,970.1 609,962.5 614.3,935.3 619.5,916.9 624.7,883.2 630,899.5 635.2,876.7 640.4,862.6 645.7,848.5 650.9,883.2 656.1,877.8 661.4,883.2 666.6,884.3 671.9,871.3 677.1,859.5 682.3,861 687.6,876.1 692.8,882.4 698,884.9 703.3,879.8 708.5,874.6 713.8,861 719,855.6 724.2,847.2 729.5,841.1 734.7,882.5 739.9,908.8 745.2,926.4 750.4,916.3 755.6,907.1 760.9,908.6 766.1,962.1 771.4,951.5 776.6,949.9 781.8,957.2 787.1,950.8 792.3,954.1 797.5,950.3 802.8,947.1 808,939.8 813.2,978.8 818.5,987.9 823.7,983.9 829,989.1 834.2,994.3 839.4,987.2 844.7,978.9 849.9,983.9 855.1,1005.9 860.4,1006.6 865.6,1000.7 870.8,1015.5 876.1,1021 881.3,1016 886.6,977.7 891.8,968.9 897,962.7 902.3,969.1 907.5,972.8 912.7,970.1 918,999.6 923.2,983.4 928.4,1001 933.7,989.9 938.9,960 944.2,972.2 949.4,969.8 954.6,953.2 959.9,915.1 965.1,909.2 970.3,906.6 975.6,911.1 980.8,963.5 986,951.2 991.3,945.4 996.5,945 1001.8,954.9 1007,957.9 1012.2,957 1017.5,972.6 1022.7,968.6 1027.9,967.5 1033.2,966.9 1038.4,958.7 1043.6,978.3 1048.9,1006.6 1054.1,1045.5 1059.4,1025.6 1064.6,1044.5 1069.8,1058.4 1075.1,1062.9 1080.3,1051.2 1085.5,1047.3 1090.8,1049.8 1096,1044.6 1101.2,1046.1 1106.5,1034 1111.7,1017.5 1117,989.4 1122.2,986.1 1127.4,991.9 1132.7,1004.3 1137.9,1020.3 1143.1,991.6 1148.4,999.3 1153.6,1018 1158.8,1016.4 1164.1,1017.1 1169.3,1056.6 1174.6,1047.7 1179.8,1061.4 1185,1061.4 1190.3,1067 1195.5,1056.9 1200.7,959 1206,1016.2 1211.2,1010.2 1216.4,1005.5 1221.7,996.4 1226.9,1016.4 1232.2,1021.3 1237.4,1036.9 1242.6,1045.9 1247.9,1028.9 1253.1,1021.7 1258.3,1020.2 1263.6,1008.8 1268.8,1004.7 1274,1015.5 1279.3,1009.8 1284.5,1016.3 1289.8,985.8 1295,999.7 1300.2,1006.2 1305.5,1007.3 1310.7,998.5 1315.9,997.4 1321.2,996.7 1326.4,1011.8 1331.6,1013.1 1336.9,1031.2 1342.1,1040.5 1347.4,1039.7 1352.6,1046.4 1357.8,1035.9 1363.1,1051.4 1368.3,1041.7 1373.5,1029.5 1378.8,1026.4 1384,1057.1 1389.2,1059.7 1394.5,1071.2 1399.7,1022.7 1405,1033.8 1410.2,1024.5 1415.4,1003.1 1420.7,1009.2 1425.9,1007.7 1431.1,1014.3 1436.4,1014.3 1441.6,1017.5 1446.8,1017.5 1452.1,1013.4 1457.3,1015.4 1462.6,1013 1467.8,984.9 1473,983 1478.3,986.8 1483.5,993.2 1488.7,992.1 1494,976.2 1499.2,966.9 1504.4,985.9 1509.7,998.1 1514.9,993.2 1520.2,993.2 1525.4,1000.8 1530.6,1009.3 1535.9,1018.4 1541.1,1009.8 1546.3,1020.5 1551.6,963.3 1556.8,960.3 1562,936.5 1567.3,971 1572.5,942.3 1577.8,936.8 1583,946.1 1588.2,987.1 1593.5,988.1 1598.7,994.5 1603.9,980.1 1609.2,991.1 1614.4,996.6 1619.6,988.7 1624.9,980.9 1630.1,1013.7 1635.4,1005.4 1640.6,1002.2 1645.8,1010 1651.1,1007.5 1656.3,1019 1661.5,1025.7 1666.8,1048.4 1672,1037.1 1677.2,1035.6 1682.5,1030.2 1687.7,1014.9 1693,1026.8 1698.2,1049.7 1703.4,1029.5 1708.7,1024 1713.9,999.8 1719.1,987.5 1724.4,991.6 1729.6,1002.1 1734.8,1022.6 1740.1,1032.4 1745.3,1032.4 1750.6,1026.1 1755.8,1004.4 1761,1024.3 1766.3,1021.5 1771.5,1021.5 1776.7,1035.5 1782,1049.2 1787.2,1059.5 1792.4,1012 1797.7,1004.5 1802.9,1004.5 1808.2,1027.9 1813.4,1014 1818.6,1003.3 1823.9,998 1829.1,988.7 1834.3,1008.9 1839.6,991.3 1844.8,985 1850,998.1 1855.3,997.2 1860.5,983 1865.8,983.5 1871,971.3 1876.2,949.6 1881.5,924.7 1886.7,902.5 1891.9,902 1897.2,892.7 1902.4,883.3 1907.6,896.4 1912.9,887.2 1918.1,865.3 1923.4,883.9 1928.6,883.2 1933.8,881.7 1939.1,876.8 1944.3,876.8 1949.5,959.8 1954.8,966.2 1960,966.2 1965.2,963.9 1970.5,954.7 1975.7,977.6 1981,976.3 1986.2,983.7 1991.4,998 1996.7,1008.9 2001.9,1038.1 2007.1,1006.5 2012.4,989.9 2017.6,1006 2022.9,1001.8 2028.1,962.4 2033.3,967.5 2038.6,977.9 2043.8,983.9 2049,992.8 2054.3,975.4 2059.5,974.8 2064.7,1004.6 2070,1003.9 2075.2,1000.3 2080.5,1004.9 2085.7,1008.2 2090.9,1039.1 2096.2,1021.4 2101.4,1035.4 2106.6,1000.2 2111.9,1004.3 2117.1,1007.8 2122.3,1031 2127.6,1006.8 2132.8,1013.2 2138.1,1013.2 2143.3,1033.4 2148.5,1033 2153.8,1039.5 2159,1041.4 2164.2,1021.2 2169.5,1024.2 2174.7,1032.1 2179.9,1025 2185.2,1026.6 2190.4,1013.1 2195.7,994.4 2200.9,1000.4 2206.1,992.8 2211.4,982 2216.6,969.4 2221.8,966.9 2227.1,990.6 2232.3,998.2 2237.5,989.3 2242.8,979.7 2248,982.2 2253.3,1005 2258.5,1006.2 2263.7,1007.4 2269,1036.7 2274.2,1041.5 2279.4,1013.1 2284.7,1048.3 2289.9,1037.7 2295.1,1031.9 2300.4,1016.9 2305.6,1013.7 2310.9,1021.7 2316.1,997.7 2321.3,979.2 2326.6,978.7 2331.8,997.7 2337,997.2 2342.3,991.6 2347.5,1025 2352.7,1018 2358,1034.4 2363.2,1027.9" fill="none" stroke="#7e5cc8" stroke-width="2" stroke-linejoin="round"/>
<polyline points="-3,1030 0,1020.8 7,1006.9 15.6,989.5 24.3,979.1 33,965.2 43.4,952.1 53.9,944 66,945.2 69.7,946.8 74.9,948.2 80.1,951.5 85.4,953.1 90.6,956.9 95.9,961.8 101.1,968.1 106.3,976.5 111.6,982.3 116.8,985.1 122,986.2 127.3,988.7 132.5,990.9 137.7,994.6 143,997.7 148.2,1001.5 153.5,1005.4 158.7,1007.2 163.9,1006.9 169.2,1006.1 174.4,1004.1 179.6,998.6 184.9,995.2 190.1,995.3 195.3,996 200.6,994.6 205.8,993 211.1,990.9 216.3,990.6 221.5,992 226.8,992.9 232,994 237.2,994.8 242.5,995.8 247.7,997.9 252.9,1000.1 258.2,1002.8 263.4,1005.7 268.7,1009.4 273.9,1015.1 279.1,1020.7 284.4,1024.9 289.6,1027 294.8,1027.8 300.1,1029.1 305.3,1027.4 310.5,1025.3 315.8,1021.6 321,1018.7 326.3,1016.4 331.5,1013.7 336.7,1010.9 342,1007.1 347.2,1002.3 352.4,996.6 357.7,992.5 362.9,989.6 368.1,986.3 373.4,983.4 378.6,982.4 383.9,982.4 389.1,982.2 394.3,977.8 399.6,977.6 404.8,978.3 410,982.5 415.3,987.8 420.5,992 425.7,997.4 431,1001.6 436.2,1005.7 441.5,1010.1 446.7,1014.1 451.9,1018 457.2,1021.1 462.4,1025.8 467.6,1033 472.9,1035.8 478.1,1037.6 483.3,1035.6 488.6,1032.8 493.8,1030.7 499.1,1028.5 504.3,1026.4 509.5,1024.1 514.8,1023.4 520,1022.9 525.2,1022.3 530.5,1024.4 535.7,1025.5 540.9,1026 546.2,1027.3 551.4,1027.4 556.7,1028.4 561.9,1030.4 567.1,1032.3 572.4,1034.3 577.6,1037.1 582.8,1039.8 588.1,1039.8 593.3,1035.5 598.5,1030.8 603.8,1024.5 609,1018.7 614.3,1011.3 619.5,1002.8 624.7,993.1 630,983.9 635.2,972 640.4,959.4 645.7,945.4 650.9,933.5 656.1,921.1 661.4,910.5 666.6,903.5 671.9,896.8 677.1,888.9 682.3,881.6 687.6,877.4 692.8,875 698,875.1 703.3,873.7 708.5,873.5 713.8,873.4 719,873.9 724.2,871.3 729.5,868.7 734.7,868.7 739.9,870.4 745.2,874.3 750.4,878.4 755.6,881.7 760.9,884 766.1,889.7 771.4,894.5 776.6,899.5 781.8,905.4 787.1,911.8 792.3,918.8 797.5,926.2 802.8,933.8 808,937.9 813.2,942.9 818.5,947.3 823.7,952.1 829,957.9 834.2,964.1 839.4,965.9 844.7,967.8 849.9,970.2 855.1,973.7 860.4,977.7 865.6,981 870.8,985.7 876.1,991 881.3,996.4 886.6,996.3 891.8,995 897,993.5 902.3,992 907.5,990.5 912.7,989.3 918,990.7 923.2,990.7 928.4,990.4 933.7,989.2 938.9,986.3 944.2,983.2 949.4,979.5 954.6,975 959.9,970.6 965.1,966.3 970.3,962.3 975.6,958.2 980.8,957.5 986,956.1 991.3,952.3 996.5,949.5 1001.8,946.2 1007,943.9 1012.2,943.7 1017.5,943.7 1022.7,943.7 1027.9,944.7 1033.2,948.4 1038.4,951.9 1043.6,957 1048.9,963.9 1054.1,969.7 1059.4,975 1064.6,982.1 1069.8,990.2 1075.1,997.9 1080.3,1004.6 1085.5,1011 1090.8,1016.5 1096,1022 1101.2,1027.6 1106.5,1032.4 1111.7,1036.6 1117,1037.4 1122.2,1035.9 1127.4,1032.1 1132.7,1030.6 1137.9,1028.8 1143.1,1024.1 1148.4,1019.5 1153.6,1017.2 1158.8,1014.9 1164.1,1012.6 1169.3,1013.5 1174.6,1013.6 1179.8,1015.5 1185,1018.7 1190.3,1024.2 1195.5,1029.3 1200.7,1026.9 1206,1027.8 1211.2,1027.1 1216.4,1028.1 1221.7,1027.9 1226.9,1027.7 1232.2,1028.1 1237.4,1029.5 1242.6,1028.7 1247.9,1027.4 1253.1,1024.6 1258.3,1021.6 1263.6,1017.4 1268.8,1013.7 1274,1017.7 1279.3,1017.3 1284.5,1017.7 1289.8,1016.3 1295,1016.6 1300.2,1015.8 1305.5,1014.8 1310.7,1012.1 1315.9,1008.6 1321.2,1006.3 1326.4,1005.6 1331.6,1005.1 1336.9,1006.7 1342.1,1009.3 1347.4,1011 1352.6,1013.6 1357.8,1015 1363.1,1019.7 1368.3,1022.7 1373.5,1024.4 1378.8,1025.7 1384,1029.9 1389.2,1034.4 1394.5,1039.7 1399.7,1040.5 1405,1041.9 1410.2,1041.5 1415.4,1038.8 1420.7,1036.6 1425.9,1033.8 1431.1,1032.3 1436.4,1029.6 1441.6,1027.9 1446.8,1027.1 1452.1,1026.1 1457.3,1023.2 1462.6,1019.8 1467.8,1013.7 1473,1010.8 1478.3,1007.5 1483.5,1005.2 1488.7,1004.5 1494,1002.1 1499.2,999.2 1504.4,997.1 1509.7,996 1514.9,994.3 1520.2,992.5 1525.4,991.6 1530.6,991.2 1535.9,991.6 1541.1,993.3 1546.3,996 1551.6,994.3 1556.8,992 1562,988 1567.3,987.7 1572.5,985.9 1577.8,982.4 1583,978.7 1588.2,978.3 1593.5,977.9 1598.7,977.4 1603.9,975.4 1609.2,973.4 1614.4,972.5 1619.6,970.2 1624.9,971.4 1630.1,975.3 1635.4,980.2 1640.6,982.4 1645.8,987.2 1651.1,992.3 1656.3,997.5 1661.5,1000.3 1666.8,1004.6 1672,1007.6 1677.2,1011.6 1682.5,1014.4 1687.7,1015.7 1693,1018.4 1698.2,1023.3 1703.4,1024.4 1708.7,1025.8 1713.9,1025.6 1719.1,1024 1724.4,1022.8 1729.6,1021.6 1734.8,1021.4 1740.1,1020.3 1745.3,1019.9 1750.6,1019.3 1755.8,1017.4 1761,1018.1 1766.3,1017.7 1771.5,1015.7 1776.7,1016.1 1782,1017.9 1787.2,1022.2 1792.4,1023.9 1797.7,1024.9 1802.9,1025 1808.2,1025.4 1813.4,1024.1 1818.6,1022 1823.9,1020 1829.1,1018.9 1834.3,1017.8 1839.6,1015.6 1844.8,1013 1850,1010.3 1855.3,1006.6 1860.5,1001.2 1865.8,999.1 1871,996.8 1876.2,992.8 1881.5,985.5 1886.7,977.5 1891.9,970.3 1897.2,962.8 1902.4,955.2 1907.6,947.2 1912.9,939.8 1918.1,931.2 1923.4,923 1928.6,914.9 1933.8,907.7 1939.1,900 1944.3,893.3 1949.5,894 1954.8,897 1960,901.5 1965.2,906 1970.5,910.4 1975.7,917.1 1981,922.8 1986.2,929.7 1991.4,939.2 1996.7,948.1 2001.9,959.2 2007.1,968.1 2012.4,976.2 2017.6,985.4 2022.9,988.4 2028.1,988.2 2033.3,988.2 2038.6,989.3 2043.8,991.3 2049,992.4 2054.3,992.3 2059.5,991.7 2064.7,992.2 2070,991.8 2075.2,989.1 2080.5,989 2085.7,990.3 2090.9,992.7 2096.2,994.1 2101.4,999.3 2106.6,1001.6 2111.9,1003.5 2117.1,1005.2 2122.3,1007.9 2127.6,1010.2 2132.8,1012.9 2138.1,1013.5 2143.3,1015.7 2148.5,1018 2153.8,1020.5 2159,1022.8 2164.2,1021.6 2169.5,1021.8 2174.7,1021.5 2179.9,1023.3 2185.2,1024.9 2190.4,1025.3 2195.7,1022.6 2200.9,1022.2 2206.1,1020.7 2211.4,1018.5 2216.6,1013.9 2221.8,1009.2 2227.1,1005.7 2232.3,1002.6 2237.5,1000.3 2242.8,997.2 2248,993.6 2253.3,992.2 2258.5,990.7 2263.7,990.3 2269,993.3 2274.2,996.3 2279.4,997.7 2284.7,1002.5 2289.9,1007.3 2295.1,1012 2300.4,1013.9 2305.6,1015 2310.9,1017.3 2316.1,1018.6 2321.3,1018.4 2326.6,1016.5 2331.8,1015.9 2337,1015.1 2342.3,1011.9 2347.5,1010.7 2352.7,1011.1 2358,1010.1 2363.2,1009.4" fill="none" stroke="#ecd154" stroke-width="2" stroke-linejoin="round"/>
</g>

<text x="12" y="852.5" font-size="25" fill="#ececec">RSI 14 close</text>
<text x="172" y="852.5" font-size="25" letter-spacing="1" fill="#7e5cc8">43.26</text>
<text x="253" y="852.5" font-size="25" letter-spacing="1" fill="#ecd154">48.74</text>

<!-- TradingView logo -->
<defs>
<g id="tvA">
<path d="M17.3 1047.3 H39.8 V1075.8 H28.5 V1058.6 H17.3 Z"/>
<circle cx="49.8" cy="1052.6" r="5.6"/>
<path d="M58.5 1047.3 H73.8 L65.8 1075.8 H50 Z"/>
<rect x="88" y="1047" width="21.4" height="6"/>
<rect x="95.8" y="1047" width="6.1" height="29"/>
<rect x="109.1" y="1055.5" width="5.9" height="20.5"/>
<path fill-rule="evenodd" d="M144.7 1065.6 A11.2 11.2 0 1 0 122.3 1065.6 A11.2 11.2 0 1 0 144.7 1065.6 Z M138.8 1065.6 A5.3 5.3 0 1 0 128.2 1065.6 A5.3 5.3 0 1 0 138.8 1065.6 Z"/>
<rect x="138" y="1055.5" width="5.8" height="20.5"/>
<path fill-rule="evenodd" d="M169.2 1065.6 A11.2 11.2 0 1 0 146.8 1065.6 A11.2 11.2 0 1 0 169.2 1065.6 Z M163.3 1065.6 A5.3 5.3 0 1 0 152.7 1065.6 A5.3 5.3 0 1 0 163.3 1065.6 Z"/>
<rect x="162.8" y="1047" width="6.1" height="29"/>
<circle cx="175.8" cy="1049.6" r="3.5"/>
<rect x="172.9" y="1055.5" width="5.9" height="20.5"/>
<path fill-rule="evenodd" d="M226.8 1065.2 A11 11 0 1 0 204.8 1065.2 A11 11 0 1 0 226.8 1065.2 Z M221.1 1065.2 A5.3 5.3 0 1 0 210.5 1065.2 A5.3 5.3 0 1 0 221.1 1065.2 Z"/>
<rect x="220.6" y="1054.7" width="5.8" height="21"/>
<path d="M225.7 1047.4 H233.6 L239.9 1067.3 L246.3 1047.4 H254.4 L243.8 1075.8 H235.6 Z"/>
<circle cx="260" cy="1049.6" r="3.5"/>
<rect x="256.8" y="1054.7" width="6.2" height="21.1"/>
<rect x="269.5" y="1062.9" width="17.5" height="4.6"/>
<path d="M287.7 1055 H294.3 L297.4 1067.7 L301.8 1055 H306.8 L310.4 1068.2 L314.1 1055 H320.6 L314.1 1075.8 H307.8 L304.3 1064.9 L300 1075.8 H294.3 Z"/>
</g>
<g id="tvB">
<path d="M112 1070 V1064 C112 1059.5 114.5 1058.5 120.2 1058.5"/>
<path d="M185 1076 V1063.9 A6.75 6.75 0 0 1 198.5 1063.9 V1076"/>
<path d="M223.5 1064 V1075 C223.5 1080.8 219.5 1082.2 215 1082.2 C211 1082.2 208 1081 206 1079"/>
<path d="M284.8 1065.3 A7.8 7.8 0 1 0 283.6 1069.4"/>
</g>
</defs>
<use href="#tvA" fill="none" stroke="#101010" stroke-width="8" stroke-linejoin="round"/>
<use href="#tvB" fill="none" stroke="#101010" stroke-width="14" stroke-linecap="square"/>
<use href="#tvA" fill="#dadada"/>
<use href="#tvB" fill="none" stroke="#dadada" stroke-width="6"/>

<!-- RSI axis -->
<g font-size="24" letter-spacing="0.6" fill="#dadada">
<text x="2436" y="831.7">100.00</text>
<text x="2436" y="904.4">80.00</text>
<text x="2436" y="977.1">60.00</text>
<text x="2436" y="1049.8">40.00</text>
</g>
<path d="M2420 980.2 H2506.6 A3 3 0 0 1 2509.6 983.2 V1009.8 A3 3 0 0 1 2506.6 1012.8 H2420 Z" fill="#f4d55c"/>
<text x="2436" y="1004.2" font-size="24" letter-spacing="0.6" fill="#111111">48.74</text>
<path d="M2420 1013.2 H2506.6 A3 3 0 0 1 2509.6 1016.2 V1042.4 A3 3 0 0 1 2506.6 1045.4 H2420 Z" fill="#7b5bc2"/>
<text x="2436" y="1037.3" font-size="24" letter-spacing="0.6" fill="#ffffff">43.26</text>

<!-- time axis -->
<g font-size="22.6" fill="#ededed" text-anchor="middle">
<text x="85.4" y="1139">Aug</text>
<text x="247.7" y="1139">Sep</text>
<text x="404.8" y="1139">Oct</text>
<text x="567.1" y="1139">Nov</text>
<text x="724.2" y="1139">Dec</text>
<text x="887.8" y="1140" letter-spacing="2.4" stroke="#ededed" stroke-width="0.7">2025</text>
<text x="1048.9" y="1139">Feb</text>
<text x="1195.5" y="1139">Mar</text>
<text x="1357.8" y="1139">Apr</text>
<text x="1514.9" y="1139">May</text>
<text x="1677.2" y="1139">Jun</text>
<text x="1834.3" y="1139">Jul</text>
<text x="1996.7" y="1139">Aug</text>
<text x="2159" y="1139">Sep</text>
<text x="2316.1" y="1139">Oct</text>
</g>
<path d="M2474 1131 L2481 1118.6 H2495 L2502 1131 L2495 1143.4 H2481 Z" fill="none" stroke="#d2d2d2" stroke-width="1.7" stroke-linejoin="round"/>
<circle cx="2488" cy="1131" r="4.2" fill="none" stroke="#d2d2d2" stroke-width="1.7"/>

<!-- right edge -->
<rect x="2556" y="0" width="4" height="1151" fill="#e9e9e9"/>
<path d="M2548 0 H2556 V8 A8 8 0 0 0 2548 0 Z" fill="#e9e9e9"/>
</svg>
</body></html>
